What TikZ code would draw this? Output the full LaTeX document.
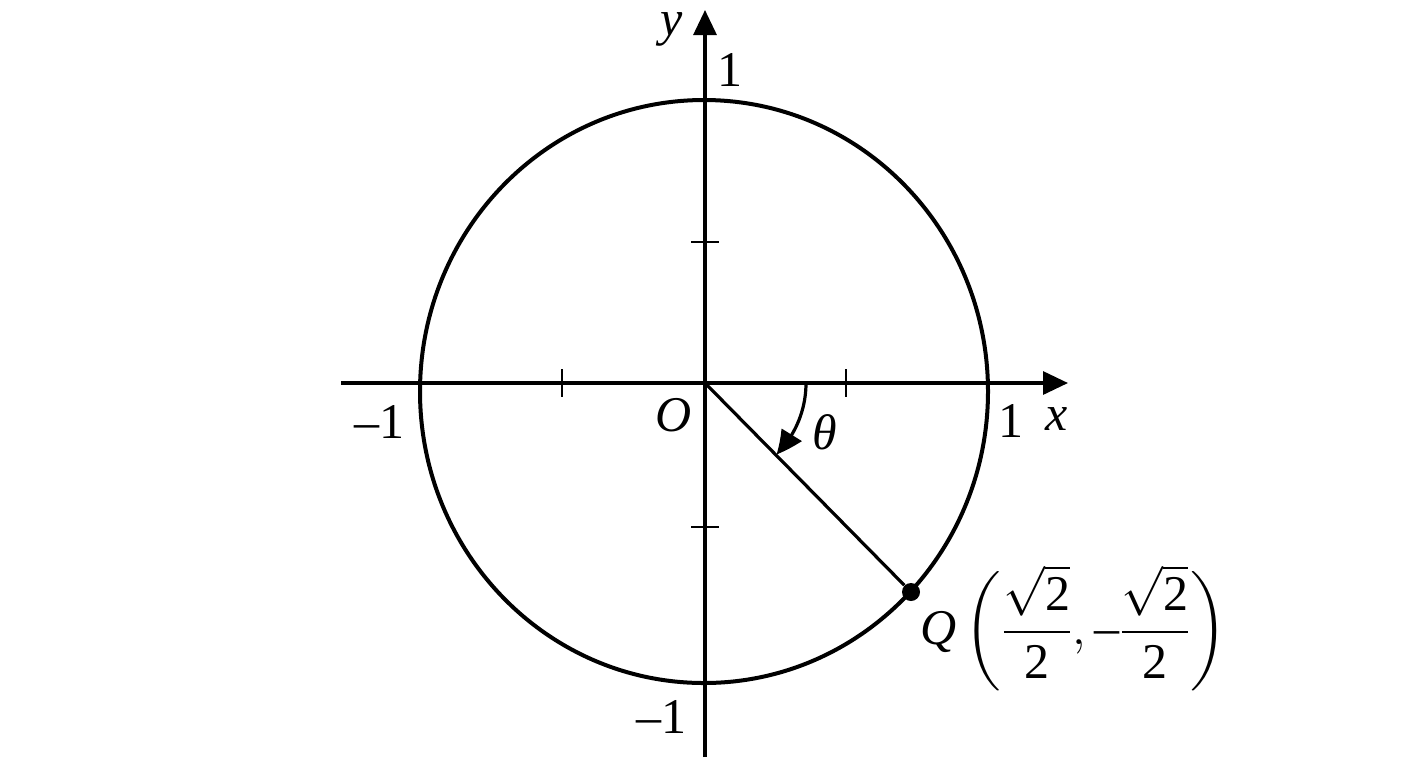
\documentclass[tikz,border=0pt]{standalone}
\usepackage{amsmath}
\usepackage{fontspec}
\setmainfont{Liberation Serif}
\usetikzlibrary{arrows.meta,bending}
\begin{document}
\begin{tikzpicture}[x=0.5pt,y=-0.5pt,
  axis/.style={line width=1.6pt},
  tickmark/.style={line width=1pt},
  curve/.style={line width=2pt},
  tip/.style={-{Triangle[length=12.5pt,width=11.5pt]}},
  lbl/.style={inner sep=0pt,font=\fontsize{25}{30}\selectfont},
  dot/.style={circle,fill=black,inner sep=0pt,minimum size=9pt}]
\useasboundingbox (0,0) rectangle (1408,768);
% axes
\coordinate (O) at (705,383);
\coordinate (xs) at (341,383);
\coordinate (xe) at (1068,383);
\coordinate (ys) at (705,757);
\coordinate (ye) at (705,10);
\draw[axis,tip] (xs) -- (xe);
\draw[axis,tip] (ys) -- (ye);
% ticks
\draw[tickmark] (562,369) -- (562,397);
\draw[tickmark] (846,369) -- (846,397);
\draw[tickmark] (691,242) -- (719,242);
\draw[tickmark] (691,527) -- (719,527);
% circle
\draw[curve] (704,391.5) ellipse [x radius=142pt, y radius=145.75pt];
% point Q and radius
\node[dot] (Q) at (911,592) {};
\draw[axis] (O) -- (Q);
% angle arc
\coordinate (A) at (806,383);
\draw[axis,-{Triangle[length=12.5pt,width=11.5pt,bend]}] (A) arc[start angle=0,end angle=-45,radius=50.5pt];
% labels
\node[lbl] (ylab) at (672,29) {\textit{y}};
\node[lbl] (ytop) at (730,70) {1};
\node[lbl] (xneg) at (379,422) {–1};
\node[lbl] (olab) at (674,415) {\textit{O}};
\node[lbl] (th) at (825,432) {\textit{θ}};
\node[lbl] (xpos) at (1011,421) {1};
\node[lbl] (xlab) at (1057,419) {\textit{x}};
\node[lbl] (ybot) at (661,717) {–1};
\node[lbl,anchor=base west] (qlab) at (920,644)
  {\textit{Q}\,$\biggl(\dfrac{\sqrt{\text{2}}}{\text{2}}{,}\,\text{–}\dfrac{\sqrt{\text{2}}}{\text{2}}\biggr)$};
\end{tikzpicture}
\end{document}
